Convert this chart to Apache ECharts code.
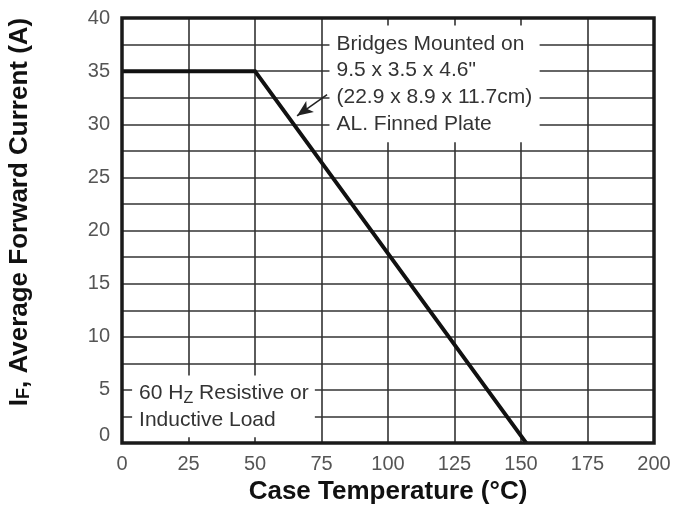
<!DOCTYPE html>
<html>
<head>
<meta charset="utf-8">
<script src="https://cdn.jsdelivr.net/npm/echarts@6/dist/echarts.min.js"></script>
<style>html,body{margin:0;padding:0;background:#fff}#c{width:676px;height:510px}</style>
</head>
<body>
<div id="c"></div>
<script>
// Data
var tempC = [0, 50, 152];
var currentA = [35, 35, 0];
var xTicks = [0, 25, 50, 75, 100, 125, 150, 175, 200];
var yTicks = [0, 5, 10, 15, 20, 25, 30, 35, 40];
var noteMount = ['Bridges Mounted on', '9.5 x 3.5 x 4.6"', '(22.9 x 8.9 x 11.7cm)', 'AL. Finned Plate'];
var noteLoad = ['60 H{s|Z} Resistive or', 'Inductive Load'];

var FONT = '"Liberation Sans", Arial, Helvetica, sans-serif';
var chart = echarts.init(document.getElementById('c'));
var option = {
  animation: false,
  backgroundColor: '#fff',
  grid: { left: 122, right: 22, top: 18, bottom: 64, show: true, borderColor: '#1a1a1a', borderWidth: 3.5, backgroundColor: 'transparent', z: 10 },
  xAxis: {
    type: 'value', min: 0, max: 200, interval: 25,
    axisLine: { show: false }, axisTick: { show: false },
    axisLabel: { color: '#555', fontSize: 20, fontFamily: FONT, margin: 11,
      formatter: function (v) { return xTicks.indexOf(v) >= 0 ? String(v) : ''; } },
    splitLine: { show: true, lineStyle: { color: '#333', width: 1.6 } },
    name: 'Case Temperature (°C)', nameLocation: 'middle', nameGap: 29,
    nameTextStyle: { color: '#111', fontSize: 26, fontWeight: 'bold', fontFamily: FONT }
  },
  yAxis: {
    type: 'value', min: 0, max: 40, interval: 2.5,
    axisLine: { show: false }, axisTick: { show: false },
    axisLabel: { color: '#555', fontSize: 20, fontFamily: FONT, margin: 12,
      formatter: function (v) {
        if (v === 0) return '{z|0}';
        return yTicks.indexOf(v) >= 0 ? String(v) : '';
      },
      rich: { z: { color: '#555', fontSize: 20, fontFamily: FONT, padding: [0, 0, 16, 0] } } },
    splitLine: { show: true, lineStyle: { color: '#333', width: 1.6 } }
  },
  graphic: [{
    type: 'text', x: 20, y: 212, rotation: Math.PI / 2,
    style: {
      text: 'I{s|F}, Average Forward Current (A)',
      fill: '#111', font: 'bold 26px ' + FONT, align: 'center', verticalAlign: 'middle',
      rich: { s: { fontSize: 18, fontWeight: 'bold', fontFamily: FONT, fill: '#111', padding: [9, 0, 0, 0] } }
    }
  }],
  series: [
    {
      type: 'line', z: 3, silent: true,
      data: [],
      markArea: {
        silent: true,
        itemStyle: { color: '#fff', borderWidth: 0 },
        label: { show: true, position: 'insideLeft', distance: 7, color: '#333', fontSize: 21, fontFamily: FONT, lineHeight: 26.75,
          rich: { s: { fontSize: 16, color: '#333', fontFamily: FONT, verticalAlign: 'bottom', padding: [10, 0, 0, 0] } } },
        data: [
          [{ coord: [78, 39.3], name: noteMount.join('\n') }, { coord: [157, 28.3] }],
          [{ coord: [3.8, 6.35], name: noteLoad.join('\n') }, { coord: [72.5, 0.56] }]
        ]
      }
    },
    {
      type: 'line', z: 5, silent: true,
      data: tempC.map(function (t, i) { return [t, currentA[i]]; }),
      symbol: 'none',
      lineStyle: { color: '#111', width: 4, join: 'miter' },
      markLine: {
        silent: true, symbol: ['none', 'arrow'], symbolSize: [10, 16],
        lineStyle: { color: '#222', width: 1.5, type: 'solid' },
        label: { show: false },
        data: [[{ coord: [77.1, 32.8] }, { coord: [65.8, 30.8] }]]
      }
    }
  ]
};
chart.setOption(option);
</script>
</body>
</html>
